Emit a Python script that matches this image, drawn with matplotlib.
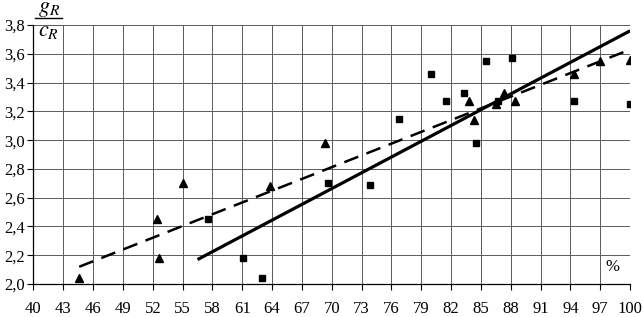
import matplotlib
matplotlib.use("Agg")
import matplotlib.pyplot as plt
import numpy as np

plt.rcParams["font.family"] = ["Liberation Serif", "DejaVu Serif"]

# triangles
tri_x = [44.6, 52.4, 52.6, 55.0, 63.8, 69.3, 83.8, 84.3, 86.5, 87.3, 88.4, 94.4, 97.0, 100.0]
tri_y = [2.04, 2.45, 2.18, 2.70, 2.68, 2.98, 3.27, 3.14, 3.25, 3.33, 3.27, 3.46, 3.55, 3.56]

# squares
sq_x = [57.6, 61.1, 63.0, 69.6, 73.8, 76.8, 80.0, 81.5, 83.3, 84.5, 85.5, 86.7, 88.1, 94.4, 100.0]
sq_y = [2.45, 2.18, 2.04, 2.70, 2.69, 3.15, 3.46, 3.27, 3.33, 2.98, 3.55, 3.27, 3.57, 3.27, 3.25]

# trend lines (end points)
solid_x = [56.5, 100.0]
solid_y = [2.17, 3.76]
dashed_x = [44.6, 100.0]
dashed_y = [2.12, 3.63]

x_ticks = list(range(40, 101, 3))
y_ticks = [2.0, 2.2, 2.4, 2.6, 2.8, 3.0, 3.2, 3.4, 3.6, 3.8]

fig = plt.figure(figsize=(6.43, 3.17), dpi=100)
ax = fig.add_axes([0.052, 0.104, 0.928, 0.817])

ax.set_xlim(40, 100)
ax.set_ylim(2.0, 3.8)
ax.set_xticks(x_ticks)
ax.set_yticks(y_ticks)
ax.set_yticklabels([f"{v:.1f}".replace(".", ",") for v in y_ticks])
ax.grid(True, color="#5a5a5a", linewidth=0.7)
ax.set_axisbelow(True)
ax.tick_params(direction="out", length=4, width=0.8, labelsize=12, pad=2)
ax.tick_params(axis="x", pad=8)
for s in ["top", "right"]:
    ax.spines[s].set_visible(False)
ax.spines["left"].set_linewidth(0.9)
ax.spines["bottom"].set_linewidth(0.9)

ax.plot(solid_x, solid_y, color="black", linewidth=2.3, solid_capstyle="butt")
ax.plot(dashed_x, dashed_y, color="black", linewidth=1.8, dashes=(6, 3.5))

ax.plot(sq_x, sq_y, "s", color="black", markersize=5, linestyle="none")
ax.plot(tri_x, tri_y, "^", color="black", markersize=6, linestyle="none")

# axis labels: g_R / c_R fraction
fig.text(0.076, 0.962, r"$g_R$", fontsize=16, ha="center", va="baseline",
         math_fontfamily="stix")
fig.add_artist(plt.Line2D([0.054, 0.097], [0.943, 0.943], color="black", linewidth=1.0))
fig.text(0.076, 0.885, r"$c_R$", fontsize=16, ha="center", va="baseline",
         math_fontfamily="stix")
ax.text(98.2, 2.12, "%", fontsize=12, ha="center", va="center")

fig.savefig("out.png", dpi=100)
